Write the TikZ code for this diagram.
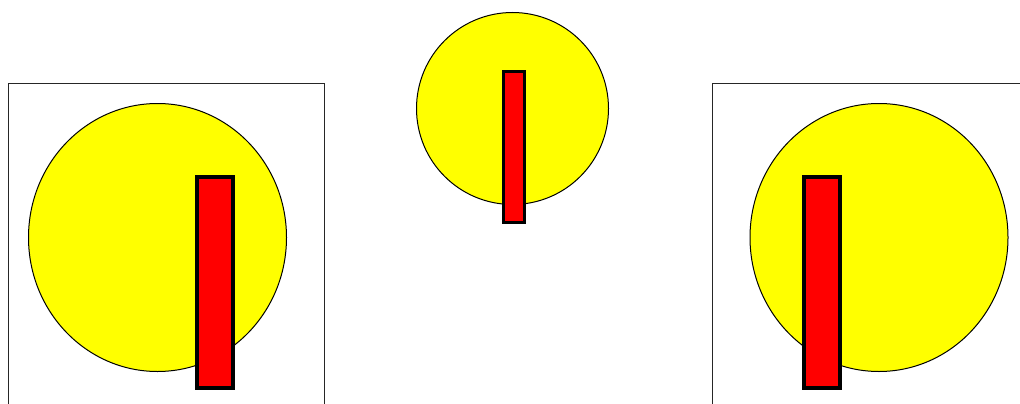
\documentclass[tikz,border=0pt]{standalone}
\definecolor{pureyellow}{RGB}{255,255,0}
\definecolor{purered}{RGB}{255,0,0}
\tikzset{
  frame/.style={draw=black!85, line width=1.2pt},
  disc/.style={draw=black, fill=pureyellow, line width=1pt},
  bar/.style={draw=black, fill=purered, line width=4pt},
  smallbar/.style={draw=black, fill=purered, line width=3pt}
}
\begin{document}
\begin{tikzpicture}[x=1pt,y=-1pt]
\useasboundingbox (0,0) rectangle (1020,404);
\clip (0,0) rectangle (1020,404);
\fill[white] (0,0) rectangle (1020,404);
% left
\draw[frame] (8.5,83.5) rectangle (324.5,420);
\draw[disc] (157.5,237.5) ellipse [x radius=129, y radius=134];
\draw[bar] (197,177) rectangle (233,388);
% middle
\draw[disc] (512.5,108.5) ellipse [x radius=96, y radius=96];
\draw[smallbar] (503.5,71.5) rectangle (524.5,222.5);
% right
\draw[frame] (712.5,83.5) rectangle (1030,420);
\draw[disc] (879,237.5) ellipse [x radius=129, y radius=134];
\draw[bar] (804,177) rectangle (840,388);
\end{tikzpicture}
\end{document}
